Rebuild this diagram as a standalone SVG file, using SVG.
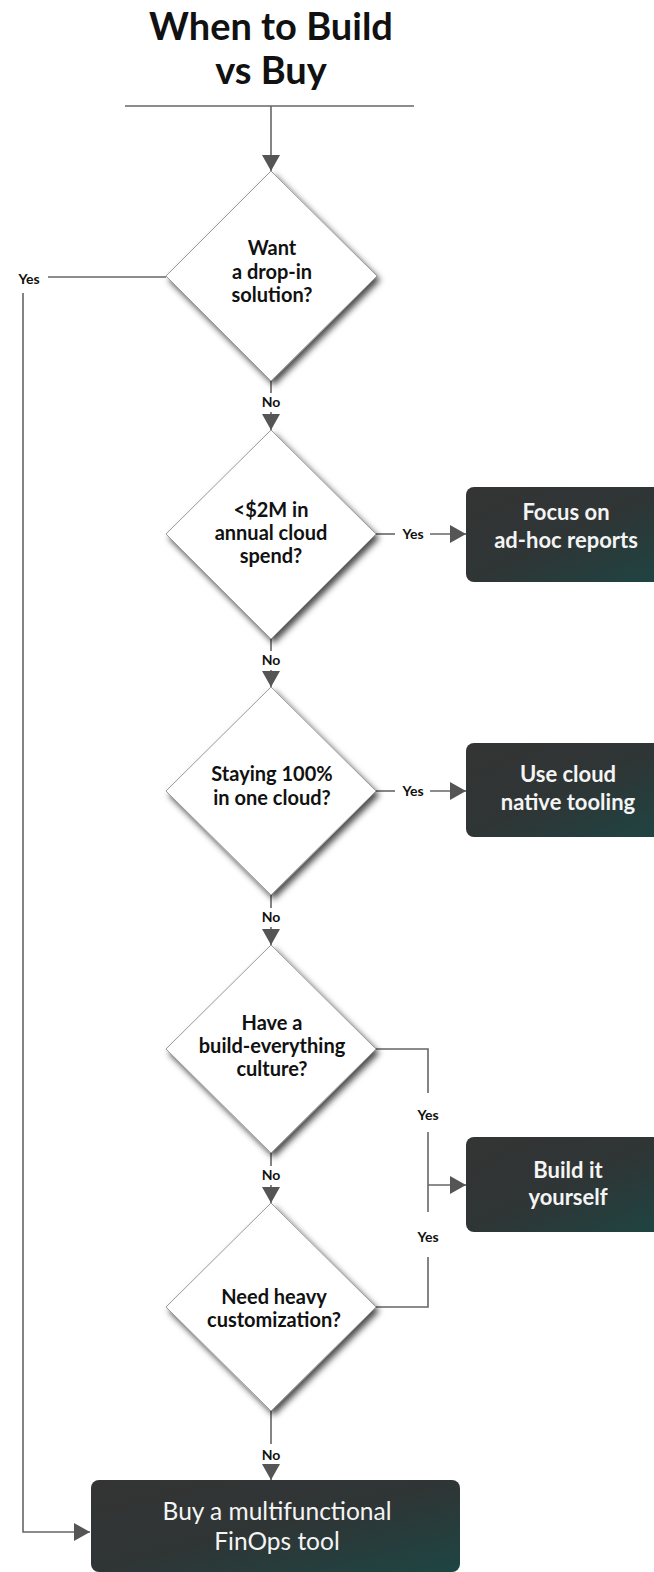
<svg xmlns="http://www.w3.org/2000/svg" width="654" height="1572" viewBox="0 0 654 1572">
<defs>
<style>
.title{font-family:Lato,"Liberation Sans",sans-serif;font-weight:700;font-size:38px;fill:#111;text-anchor:middle}
.q{font-family:Lato,"Liberation Sans",sans-serif;font-weight:700;font-size:20px;fill:#111;text-anchor:middle}
.lbl{font-family:Lato,"Liberation Sans",sans-serif;font-weight:700;font-size:14px;fill:#111;text-anchor:middle}
.bt{font-family:Lato,"Liberation Sans",sans-serif;font-weight:700;font-size:22px;fill:#f4f4f4;text-anchor:middle}
.bt2{font-family:Lato,"Liberation Sans",sans-serif;font-weight:400;font-size:24.5px;fill:#f4f4f4;text-anchor:middle}
.dia{fill:#fff;stroke:#9a9a9a;stroke-width:1;filter:url(#sh)}
.box{fill:url(#g)}
.ln{fill:none;stroke:#666;stroke-width:1.6}
</style>
<filter id="sh" x="-20%" y="-20%" width="145%" height="145%">
<feDropShadow dx="3" dy="4" stdDeviation="3" flood-color="#000" flood-opacity="0.7"/>
</filter>
<linearGradient id="g" x1="0" y1="0" x2="1" y2="1">
<stop offset="0" stop-color="#343434"/>
<stop offset="0.5" stop-color="#2f3535"/>
<stop offset="1" stop-color="#1d4543"/>
</linearGradient>
<marker id="ah" markerUnits="userSpaceOnUse" markerWidth="18" markerHeight="20" refX="16" refY="9" orient="auto">
<path d="M0,0 L16,9 L0,18 Z" fill="#555"/>
</marker>
</defs>
<rect width="654" height="1572" fill="#fff"/>

<g id="title">
<text class="title" x="271" y="40">When to Build</text>
<text class="title" x="271" y="84">vs Buy</text>
</g>

<g id="connectors">
<line class="ln" x1="125" y1="106" x2="414" y2="106"/>
<line class="ln" x1="271" y1="106" x2="271" y2="171" marker-end="url(#ah)"/>
<line class="ln" x1="166" y1="277" x2="48" y2="277"/>
<text class="lbl" x="29" y="284">Yes</text>
<polyline class="ln" points="23,293 23,1532 90,1532" marker-end="url(#ah)"/>
<line class="ln" x1="271" y1="380" x2="271" y2="393"/>
<text class="lbl" x="271" y="407">No</text>
<line class="ln" x1="271" y1="412" x2="271" y2="430" marker-end="url(#ah)"/>
<line class="ln" x1="376" y1="534" x2="395" y2="534"/>
<text class="lbl" x="413" y="539">Yes</text>
<line class="ln" x1="430" y1="534" x2="466" y2="534" marker-end="url(#ah)"/>
<line class="ln" x1="271" y1="638" x2="271" y2="651"/>
<text class="lbl" x="271" y="665">No</text>
<line class="ln" x1="271" y1="670" x2="271" y2="687" marker-end="url(#ah)"/>
<line class="ln" x1="376" y1="791" x2="395" y2="791"/>
<text class="lbl" x="413" y="796">Yes</text>
<line class="ln" x1="430" y1="791" x2="466" y2="791" marker-end="url(#ah)"/>
<line class="ln" x1="271" y1="895" x2="271" y2="908"/>
<text class="lbl" x="271" y="922">No</text>
<line class="ln" x1="271" y1="927" x2="271" y2="945" marker-end="url(#ah)"/>
<polyline class="ln" points="376,1049 428,1049 428,1093"/>
<text class="lbl" x="428" y="1120">Yes</text>
<line class="ln" x1="428" y1="1132" x2="428" y2="1212"/>
<text class="lbl" x="428" y="1242">Yes</text>
<polyline class="ln" points="428,1257 428,1307 376,1307"/>
<line class="ln" x1="428" y1="1185" x2="466" y2="1185" marker-end="url(#ah)"/>
<line class="ln" x1="271" y1="1153" x2="271" y2="1166"/>
<text class="lbl" x="271" y="1180">No</text>
<line class="ln" x1="271" y1="1185" x2="271" y2="1203" marker-end="url(#ah)"/>
<line class="ln" x1="271" y1="1411" x2="271" y2="1444"/>
<text class="lbl" x="271" y="1460">No</text>
<line class="ln" x1="271" y1="1464" x2="271" y2="1480" marker-end="url(#ah)"/>
</g>

<g id="d1">
<polygon class="dia" points="271,171 377,276 271,381 166,276"/>
<text class="q" x="272" y="255">Want</text>
<text class="q" x="272" y="279">a drop-in</text>
<text class="q" x="272" y="302">solution?</text>
</g>
<g id="d2">
<polygon class="dia" points="271,430 376,534 271,639 166,534"/>
<text class="q" x="271" y="517">&lt;$2M in</text>
<text class="q" x="271" y="540">annual cloud</text>
<text class="q" x="271" y="563">spend?</text>
</g>
<g id="d3">
<polygon class="dia" points="271,687 376,791 271,895 166,791"/>
<text class="q" x="272" y="781">Staying 100%</text>
<text class="q" x="272" y="805">in one cloud?</text>
</g>
<g id="d4">
<polygon class="dia" points="271,945 376,1049 271,1153 166,1049"/>
<text class="q" x="272" y="1030">Have a</text>
<text class="q" x="272" y="1053">build-everything</text>
<text class="q" x="272" y="1076">culture?</text>
</g>
<g id="d5">
<polygon class="dia" points="271,1203 376,1307 271,1411 166,1307"/>
<text class="q" x="274" y="1304">Need heavy</text>
<text class="q" x="274" y="1327">customization?</text>
</g>

<g id="b1">
<rect class="box" x="466" y="487" width="204" height="95" rx="8"/>
<text class="bt" x="566" y="520">Focus on</text>
<text class="bt" x="566" y="548">ad-hoc reports</text>
</g>
<g id="b2">
<rect class="box" x="466" y="743" width="204" height="94" rx="8"/>
<text class="bt" x="568" y="782">Use cloud</text>
<text class="bt" x="568" y="810">native tooling</text>
</g>
<g id="b3">
<rect class="box" x="466" y="1137" width="204" height="95" rx="8"/>
<text class="bt" x="568" y="1178">Build it</text>
<text class="bt" x="568" y="1205">yourself</text>
</g>
<g id="b4">
<rect class="box" x="91" y="1480" width="369" height="92" rx="8"/>
<text class="bt2" x="277" y="1520">Buy a multifunctional</text>
<text class="bt2" x="277" y="1550">FinOps tool</text>
</g>
</svg>
